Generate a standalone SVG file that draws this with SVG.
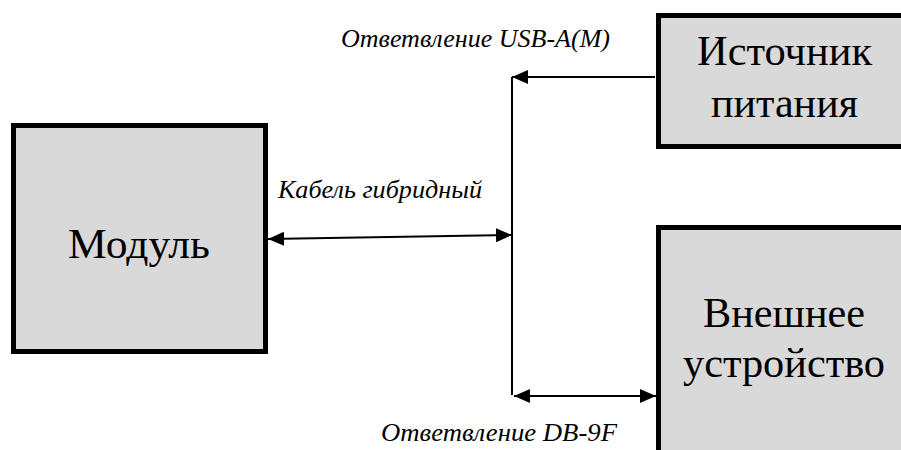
<svg xmlns="http://www.w3.org/2000/svg" width="901" height="450" viewBox="0 0 901 450">
<style>
.box{fill:#d9d9d9;stroke:#000;stroke-width:5}
.ln{stroke:#000;stroke-width:2;fill:none}
</style>
<defs>
<marker id="ah" viewBox="0 0 16 14" refX="16" refY="7" markerWidth="16" markerHeight="14" markerUnits="userSpaceOnUse" orient="auto-start-reverse">
<path d="M0,0 L16,7 L0,14 Z" fill="#000"/>
</marker>
</defs>
<rect width="901" height="450" fill="#fff"/>
<g id="connectors">
<line class="ln" x1="512" y1="77" x2="512" y2="395"/>
<line class="ln" x1="655" y1="77" x2="512" y2="77" marker-end="url(#ah)"/>
<line class="ln" x1="268" y1="239" x2="512" y2="235" marker-start="url(#ah)" marker-end="url(#ah)"/>
<line class="ln" x1="514" y1="396" x2="656" y2="396" marker-start="url(#ah)" marker-end="url(#ah)"/>
</g>
<g id="labels">
<text x="341" y="47" font-family="'Liberation Serif', serif" font-size="25" font-style="italic" textLength="269" lengthAdjust="spacingAndGlyphs">Ответвление USB-A(M)</text>
<text x="278" y="198" font-family="'Liberation Serif', serif" font-size="25" font-style="italic" textLength="204" lengthAdjust="spacingAndGlyphs">Кабель гибридный</text>
<text x="381" y="441" font-family="'Liberation Serif', serif" font-size="25" font-style="italic" textLength="236" lengthAdjust="spacingAndGlyphs">Ответвление DB-9F</text>
</g>
<g id="module">
<rect class="box" x="13.5" y="125.5" width="252" height="226"/>
<text x="68" y="258" font-family="'Liberation Serif', serif" font-size="42" textLength="142" lengthAdjust="spacingAndGlyphs">Модуль</text>
</g>
<g id="power">
<rect class="box" x="658.5" y="15.5" width="260" height="131"/>
<text x="697" y="65" font-family="'Liberation Serif', serif" font-size="42" textLength="175" lengthAdjust="spacingAndGlyphs">Источник</text>
<text x="711" y="117" font-family="'Liberation Serif', serif" font-size="42" textLength="147" lengthAdjust="spacingAndGlyphs">питания</text>
</g>
<g id="device">
<rect class="box" x="658.5" y="227.5" width="260" height="240"/>
<text x="703" y="327" font-family="'Liberation Serif', serif" font-size="42" textLength="162" lengthAdjust="spacingAndGlyphs">Внешнее</text>
<text x="683" y="377" font-family="'Liberation Serif', serif" font-size="42" textLength="202" lengthAdjust="spacingAndGlyphs">устройство</text>
</g>
</svg>
